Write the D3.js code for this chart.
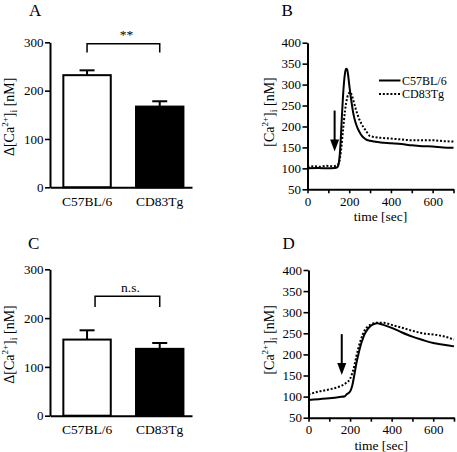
<!DOCTYPE html>
<html><head><meta charset="utf-8">
<script src="https://cdn.jsdelivr.net/npm/d3@7/dist/d3.min.js"></script>
<style>
body{margin:0;background:#fff}
text{font-family:"Liberation Serif","Times New Roman",serif;fill:#000}
</style>
</head><body>
<svg id="chart" width="457" height="452"></svg>
<script>
// ---------- data ----------
const categories = ["C57BL/6", "CD83Tg"];
const meanA = [232, 167];
const semA = [10, 11];
const sigA = "**";
const bracketA = [297, 279];   // bracket top, leg bottom (nM)
const meanC = [156, 137];
const semC = [19, 12];
const sigC = "n.s.";
const bracketC = [245, 223];
const barTicks = [0, 100, 200, 300];

const lineYTicks = [50, 100, 150, 200, 250, 300, 350, 400];
const timeTicks = [0, 100, 200, 300, 400, 500, 600, 700];
const timeLabels = [0, 200, 400, 600];

const timeB_wt = [0,50,100,130,140,145,150,155,160,165,170,175,180,185,190,195,200,210,220,230,240,250,260,270,280,300,350,400,450,500,550,600,650,700];
const valB_wt  = [100,101,100,101,102,104,112,135,175,225,270,305,328,338,336,322,300,262,230,210,196,186,178,173,169,166,162,160,158,155,153,152,150,149];
const timeB_tg = [0,30,60,90,120,140,150,160,170,180,190,200,205,210,220,230,240,260,280,300,350,400,450,500,550,600,650,700];
const valB_tg  = [103,105,104,106,105,107,112,140,190,238,268,280,282,278,262,244,228,205,190,177,173,171,169,167,167,167,165,164];

const timeD_wt = [0,50,100,150,175,185,200,210,220,230,240,250,260,270,285,300,315,330,345,360,400,450,500,550,600,650,700];
const valD_wt  = [92,94,96,99,101,106,112,125,150,178,200,220,235,248,260,268,272,274,272,270,263,252,242,234,227,223,219];
const timeD_tg = [0,50,100,150,180,200,210,220,230,240,250,260,270,285,300,330,360,400,450,500,550,600,650,700];
const valD_tg  = [105,112,117,124,132,142,155,172,195,215,232,246,257,266,271,275,275,270,263,256,250,247,243,235];

const arrowTime = [130, 160];   // B, D
const arrowTop  = [238, 248];
const arrowTip  = [140, 151];

// ---------- drawing ----------
const svg = d3.select("#chart");

function styleAxis(g) {
  g.select(".domain").attr("stroke", "#000").attr("stroke-width", 2);
  g.selectAll(".tick line").attr("stroke", "#000").attr("stroke-width", 1.6);
  g.selectAll(".tick text").attr("font-size", 13).attr("fill", "#000");
}

function yLabel(g, x, y, delta) {
  const t = g.append("text")
    .attr("transform", `translate(${x},${y}) rotate(-90)`)
    .attr("text-anchor", "middle").attr("font-size", 14);
  t.append("tspan").text((delta ? "\u0394" : "") + "[Ca");
  t.append("tspan").attr("font-size", 9).attr("dy", -6).text("2+");
  t.append("tspan").attr("dy", 6).text("]");
  t.append("tspan").attr("font-size", 10).attr("dy", 3).text("i");
  t.append("tspan").attr("dy", -3).text(" [nM]");
}

function barPanel(cfg) {
  const g = svg.append("g");
  const x = d3.scaleBand().domain(categories).range([50, 192])
    .paddingInner(0.32).paddingOuter(0.137).align(0.62);
  const y = d3.scaleLinear().domain([0, 300]).range(cfg.yr);

  g.selectAll("rect.bar").data(categories).join("rect")
    .attr("x", d => x(d) + 1).attr("width", x.bandwidth() - 2)
    .attr("y", (d, i) => y(cfg.mean[i]))
    .attr("height", (d, i) => y(0) - y(cfg.mean[i]))
    .attr("fill", (d, i) => i === 0 ? "#fff" : "#000")
    .attr("stroke", "#000").attr("stroke-width", 2);

  categories.forEach((c, i) => {
    const cx = x(c) + x.bandwidth() / 2;
    g.append("line").attr("x1", cx).attr("x2", cx)
      .attr("y1", y(cfg.mean[i])).attr("y2", y(cfg.mean[i] + cfg.sem[i]))
      .attr("stroke", "#000").attr("stroke-width", 2);
    g.append("line").attr("x1", cx - 7.5).attr("x2", cx + 7.5)
      .attr("y1", y(cfg.mean[i] + cfg.sem[i])).attr("y2", y(cfg.mean[i] + cfg.sem[i]))
      .attr("stroke", "#000").attr("stroke-width", 2);
  });

  const ya = g.append("g").attr("transform", "translate(50,0)")
    .call(d3.axisLeft(y).tickValues(barTicks).tickSize(5).tickSizeOuter(0).tickPadding(1.5));
  styleAxis(ya);
  const xa = g.append("g").attr("transform", `translate(0,${y(0)})`)
    .call(d3.axisBottom(x).tickSize(0).tickSizeOuter(0).tickPadding(9));
  styleAxis(xa);
  xa.selectAll(".tick text").attr("font-size", 13.5);

  const bx1 = x(categories[0]) + x.bandwidth() / 2 + cfg.bOff;
  const bx2 = x(categories[1]) + x.bandwidth() / 2;
  g.append("path")
    .attr("d", `M${bx1},${y(cfg.bracket[1])}V${y(cfg.bracket[0])}H${bx2}V${y(cfg.bracket[1])}`)
    .attr("fill", "none").attr("stroke", "#000").attr("stroke-width", 1.5);
  g.append("text").attr("x", (bx1 + bx2) / 2 + cfg.sigDx)
    .attr("y", y(cfg.bracket[0]) - cfg.sigDy)
    .attr("text-anchor", "middle").attr("font-size", 13.5).text(cfg.sig);

  yLabel(g, 14, (cfg.yr[0] + cfg.yr[1]) / 2 + 2, true);
  g.append("text").attr("x", cfg.lx).attr("y", cfg.ly).attr("font-size", 17).text(cfg.letter);
}

function linePanel(cfg) {
  const g = svg.append("g");
  const x = d3.scaleLinear().domain([0, 700]).range(cfg.xr);
  const y = d3.scaleLinear().domain([50, 400]).range(cfg.yr);
  const line = d3.line().x(d => x(d[0])).y(d => y(d[1])).curve(d3.curveMonotoneX);

  const wt = cfg.tWt.map((t, i) => [t, cfg.vWt[i]]);
  const tg = cfg.tTg.map((t, i) => [t, cfg.vTg[i]]);
  g.append("path").datum(tg).attr("d", line).attr("fill", "none")
    .attr("stroke", "#000").attr("stroke-width", 2).attr("stroke-dasharray", "2,1.8");
  g.append("path").datum(wt).attr("d", line).attr("fill", "none")
    .attr("stroke", "#000").attr("stroke-width", 2);

  const ya = g.append("g").attr("transform", `translate(${cfg.xr[0]},0)`)
    .call(d3.axisLeft(y).tickValues(lineYTicks).tickSize(5).tickSizeOuter(0).tickPadding(1.5));
  styleAxis(ya);
  const xa = g.append("g").attr("transform", `translate(0,${cfg.yr[0]})`)
    .call(d3.axisBottom(x).tickValues(timeTicks).tickSize(4).tickSizeOuter(0).tickPadding(3)
      .tickFormat(d => timeLabels.includes(d) ? d : ""));
  styleAxis(xa);

  const ax = x(arrowTime[cfg.ai]);
  const yTop = y(arrowTop[cfg.ai]), yTip = y(arrowTip[cfg.ai]);
  g.append("line").attr("x1", ax).attr("x2", ax).attr("y1", yTop).attr("y2", yTip - 8)
    .attr("stroke", "#000").attr("stroke-width", 2);
  g.append("path").attr("d", `M${ax - 4.5},${yTip - 12}L${ax + 4.5},${yTip - 12}L${ax},${yTip}Z`)
    .attr("fill", "#000");

  yLabel(g, cfg.ylx, (cfg.yr[0] + cfg.yr[1]) / 2 - 4, false);
  g.append("text").attr("x", (cfg.xr[0] + cfg.xr[1]) / 2).attr("y", cfg.yr[0] + 32)
    .attr("text-anchor", "middle").attr("font-size", 13.5).text("time [sec]");
  g.append("text").attr("x", cfg.lx).attr("y", cfg.ly).attr("font-size", 17).text(cfg.letter);

  if (cfg.legend) {
    categories.forEach((n, i) => {
      const ly = 80.5 + i * 13.5;
      g.append("line").attr("x1", 379).attr("x2", 400.5).attr("y1", ly).attr("y2", ly)
        .attr("stroke", "#000").attr("stroke-width", 2)
        .attr("stroke-dasharray", i === 1 ? "2,1.8" : null);
      g.append("text").attr("x", 402).attr("y", ly + 4.2).attr("font-size", 12).text(n);
    });
  }
}

barPanel({mean: meanA, sem: semA, sig: sigA, bracket: bracketA, yr: [187.3, 42.3],
  bOff: 0, sigDx: 3, sigDy: 4.5, letter: "A", lx: 29, ly: 15.5});
barPanel({mean: meanC, sem: semC, sig: sigC, bracket: bracketC, yr: [415.7, 269.3],
  bOff: 8, sigDx: 3, sigDy: 4.5, letter: "C", lx: 28, ly: 248.5});
linePanel({tWt: timeB_wt, vWt: valB_wt, tTg: timeB_tg, vTg: valB_tg, xr: [307.5, 453.5],
  yr: [189.3, 42.7], ai: 0, ylx: 274, letter: "B", lx: 281.5, ly: 15.5, legend: true});
linePanel({tWt: timeD_wt, vWt: valD_wt, tTg: timeD_tg, vTg: valD_tg, xr: [308.5, 454],
  yr: [417.7, 270], ai: 1, ylx: 274, letter: "D", lx: 282.5, ly: 249, legend: false});
</script>
</body></html>
